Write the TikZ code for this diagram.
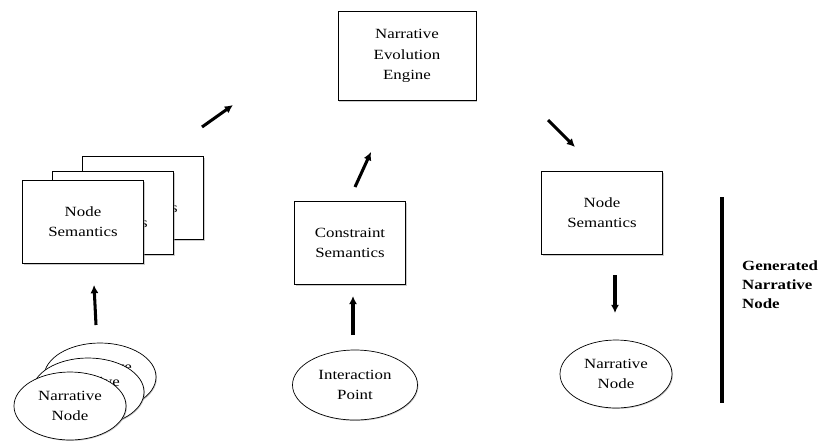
\documentclass[tikz,border=0pt]{standalone}
\usepackage{fontspec}
\setmainfont{Liberation Serif}[FakeStretch=1.2]
\usetikzlibrary{positioning, arrows.meta, shapes.geometric, shadows}

\begin{document}
\begin{tikzpicture}[
    x=0.03cm, y=-0.03cm,
    % Semantics box style - white rectangles, thin shadow
    sembox/.style={
        rectangle,
        draw=black,
        fill=white,
        line width=0.6pt,
        align=center,
        inner sep=0pt,
        font=\fontsize{12}{17.2}\selectfont,
        drop shadow={shadow xshift=1pt, shadow yshift=-1pt, fill=gray!80}
    },
    % Narrative node style - ellipses
    narrell/.style={
        ellipse,
        draw=black,
        fill=white,
        line width=0.6pt,
        align=center,
        inner sep=0pt,
        font=\fontsize{12}{17.2}\selectfont,
        minimum width=3.36cm,
        minimum height=2.04cm,
        drop shadow={shadow xshift=0.8pt, shadow yshift=-0.8pt, fill=gray!80}
    },
    % Arrow style - thick black
    arrow/.style={
        -{Latex[length=7pt, width=7pt]},
        line width=2.6pt
    },
    % Side label style
    lbl/.style={
        font=\fontsize{12}{16}\selectfont\bfseries,
        align=left
    }
]
\useasboundingbox (0,0) rectangle (819,442);

% === Engine (top) ===
\node[sembox, minimum width=4.14cm, minimum height=2.67cm] (engine) at (407,56)
    {Narrative\\Evolution\\Engine};

% === Left: stacked node semantics ===
\node[sembox, minimum width=3.63cm, minimum height=2.49cm] (nsBack) at (143,198) {Node\\Semantics};
\node[sembox, minimum width=3.63cm, minimum height=2.49cm] (nsMid) at (113,213) {Node\\Semantics};
\node[sembox, minimum width=3.63cm, minimum height=2.49cm] (nsFront) at (83,222) {Node\\Semantics};

% stacked narrative nodes
\node[narrell] (nnBack) at (100,377) {Narrative\\Node};
\node[narrell] (nnMid) at (88,392) {Narrative\\Node};
\node[narrell] (nnFront) at (70,406) {Narrative\\Node};

% === Middle: constraint semantics ===
\node[sembox, minimum width=3.33cm, minimum height=2.49cm] (constraint) at (350,243)
    {Constraint\\Semantics};
\node[narrell, minimum width=3.75cm, minimum height=2.1cm] (interaction) at (355,385)
    {Interaction\\Point};

% === Right: generated narrative node ===
\node[sembox, minimum width=3.63cm, minimum height=2.49cm] (nsRight) at (602,213) {Node\\Semantics};
\node[narrell] (nnRight) at (616,374) {Narrative\\Node};

% === Arrows ===
\coordinate (upLs) at (96,325);   \coordinate (upLe) at (94,285);
\coordinate (upMs) at (353,335);  \coordinate (upMe) at (353,296);
\coordinate (toEs) at (355,187);  \coordinate (toEe) at (371,152);
\coordinate (inEs) at (202,127);  \coordinate (inEe) at (233,105);
\coordinate (outEs) at (548,120); \coordinate (outEe) at (575,147);
\coordinate (dnRs) at (615,275);  \coordinate (dnRe) at (615,313);

\draw[arrow] (upLs) -- (upLe);
\draw[arrow] (upMs) -- (upMe);
\draw[arrow] (toEs) -- (toEe);
\draw[arrow] (inEs) -- (inEe);
\draw[arrow] (outEs) -- (outEe);
\draw[arrow] (dnRs) -- (dnRe);

% === Side bracket and label ===
\coordinate (barTop) at (722,197);
\coordinate (barBot) at (722,403);
\draw[line width=3pt] (barTop) -- (barBot);
\node[lbl, anchor=north west] (genLbl) at (738,257) {Generated\\Narrative\\Node};

\end{tikzpicture}
\end{document}
